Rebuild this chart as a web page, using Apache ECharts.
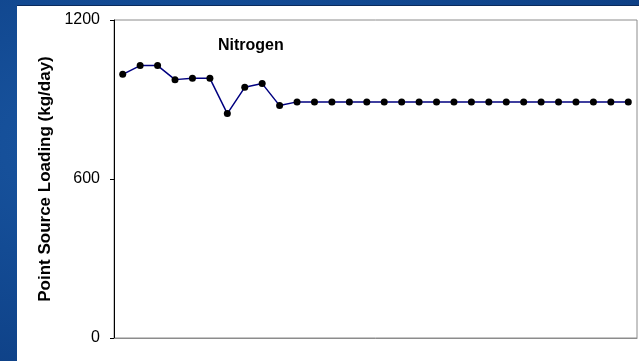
<!DOCTYPE html>
<html>
<head>
<meta charset="utf-8">
<script src="https://cdn.jsdelivr.net/npm/echarts@6/dist/echarts.min.js"></script>
<style>
  html, body { margin: 0; padding: 0; }
  body {
    width: 639px; height: 361px; overflow: hidden;
    background: radial-gradient(ellipse at 30% 40%, #1c5aa6 0%, #134b94 45%, #0c3c80 100%);
    position: relative;
  }
  #panel {
    position: absolute; left: 17px; top: 5px; width: 622px; height: 356px;
    background: #ffffff; border-top: 1px solid #0a2a5c;
  }
  #chart { position: absolute; left: 0; top: 0; width: 639px; height: 361px; }
</style>
</head>
<body>
<div id="panel"></div>
<div id="chart"></div>
<script>
// Period index along the horizontal axis (30 periods, unlabelled)
const periods = Array.from({ length: 30 }, (_, i) => String(i + 1));

// Nitrogen point source loading, kg/day
const nitrogenLoad = [
  995, 1028, 1028, 975, 980, 980, 847, 946, 960, 877,
  891, 891, 891, 891, 891, 891, 891, 891, 891, 891,
  891, 891, 891, 891, 891, 891, 891, 891, 891, 891
];

const yTicks = [0, 600, 1200];

const chart = echarts.init(document.getElementById('chart'), null, { renderer: 'canvas' });

chart.setOption({
  backgroundColor: 'transparent',
  animation: false,
  title: {
    text: 'Nitrogen',
    left: 213, top: 33,
    textStyle: { fontFamily: 'Liberation Sans, Arial', fontSize: 16, fontWeight: 'bold', color: '#000' }
  },
  grid: {
    left: 114, top: 20, right: 2, bottom: 23,
    show: true, borderColor: '#8c8c8c', borderWidth: 1, backgroundColor: '#fff'
  },
  xAxis: {
    type: 'category',
    data: periods,
    boundaryGap: true,
    axisLine: { lineStyle: { color: '#8c8c8c', width: 1 } },
    axisTick: { show: false },
    axisLabel: { show: false },
    splitLine: { show: false }
  },
  yAxis: {
    type: 'value',
    min: yTicks[0], max: yTicks[yTicks.length - 1], interval: 600,
    name: 'Point Source Loading (kg/day)',
    nameLocation: 'middle',
    nameGap: 57,
    nameTextStyle: { fontFamily: 'Liberation Sans, Arial', fontSize: 17, fontWeight: 'bold', color: '#000' },
    axisLine: { show: true, lineStyle: { color: '#000', width: 1 } },
    axisTick: { show: true, inside: false, length: 4, lineStyle: { color: '#000' } },
    axisLabel: {
      margin: 14,
      formatter: v => String(v),
      fontFamily: 'Liberation Sans, Arial', fontSize: 16, color: '#000'
    },
    splitLine: { show: false }
  },
  series: [{
    type: 'line',
    data: nitrogenLoad,
    symbol: 'circle',
    symbolSize: 7,
    lineStyle: { color: '#000080', width: 1.5 },
    itemStyle: { color: '#000' }
  }]
});
</script>
</body>
</html>
